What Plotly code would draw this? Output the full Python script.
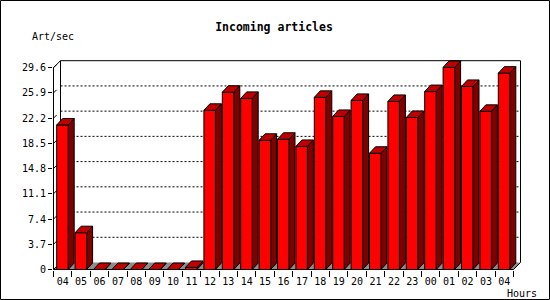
import plotly.graph_objects as go

# ---- data ----
hours = ["04", "05", "06", "07", "08", "09", "10", "11", "12", "13", "14", "15", "16",
         "17", "18", "19", "20", "21", "22", "23", "00", "01", "02", "03", "04"]
art_per_sec = [21.2, 5.4, 0, 0, 0, 0, 0, 0.3, 23.35, 26.0, 25.1, 18.95, 19.1,
               18.05, 25.25, 22.45, 24.8, 17.05, 24.65, 22.3, 26.1, 29.65, 26.85, 23.2, 28.8]
y_ticks = [0, 3.7, 7.4, 11.1, 14.8, 18.5, 22.2, 25.9, 29.6]
y_tick_labels = ["0", "3.7", "7.4", "11.1", "14.8", "18.5", "22.2", "25.9", "29.6"]
title_text = "Incoming articles"
y_title = "Art/sec"
x_title = "Hours"

# ---- geometry (pixel scales) ----
W, H = 550, 300
ML, MT = 53, 60
PW, PH = 468, 210
PX_PER_SLOT = 18.4
PX_PER_UNIT = 201.8 / 29.6
x0_px = 53.5          # pixel of front axis (x=-0.5)
y0_px = 269.5         # pixel of y=0
xr_lo = -0.5 - (x0_px - ML) / PX_PER_SLOT
xr_hi = -0.5 + (ML + PW - x0_px) / PX_PER_SLOT
yr_lo = -(MT + PH - y0_px) / PX_PER_UNIT
yr_hi = (y0_px - MT) / PX_PER_UNIT

n = len(hours)
ymax = y_ticks[-1]
# bar depth
bdx = 6.0 / PX_PER_SLOT
bdy = 6.5 / PX_PER_UNIT
# frame depth
fdx = 7.0 / PX_PER_SLOT
fdy = 7.0 / PX_PER_UNIT
bar_off = 3.2 / PX_PER_SLOT
bar_w = 11.5 / PX_PER_SLOT

fig = go.Figure()

# gridlines on back plane
gx, gy = [], []
for t in y_ticks[1:-1]:
    gx += [-0.5 + fdx, n - 0.5 + fdx, None]
    gy += [t + fdy, t + fdy, None]
fig.add_trace(go.Scatter(x=gx, y=gy, mode="lines", hoverinfo="skip",
                         line=dict(color="black", width=1, dash="2px,2px")))

# back plane edges
fig.add_trace(go.Scatter(
    x=[-0.5 + fdx, -0.5 + fdx, None, n - 0.5 + fdx, n - 0.5 + fdx],
    y=[fdy, ymax + fdy, None, fdy, ymax + fdy],
    mode="lines", hoverinfo="skip", line=dict(color="black", width=1)))

# floor
fig.add_trace(go.Scatter(
    x=[-0.5, n - 0.5, n - 0.5 + fdx, -0.5 + fdx, -0.5],
    y=[0, 0, fdy, fdy, 0],
    mode="lines", fill="toself", fillcolor="#8c8c8c", hoverinfo="skip",
    line=dict(color="rgba(0,0,0,0)", width=0)))

# bars
fx, fy, sx, sy, tx, ty = [], [], [], [], [], []
for i, v in enumerate(art_per_sec):
    xl = i - 0.5 + bar_off
    xr = xl + bar_w
    fx += [xl, xr, xr, xl, xl, None]
    fy += [0, 0, v, v, 0, None]
    sx += [xr, xr + bdx, xr + bdx, xr, xr, None]
    sy += [0, bdy, v + bdy, v, 0, None]
    tx += [xl, xr, xr + bdx, xl + bdx, xl, None]
    ty += [v, v, v + bdy, v + bdy, v, None]

for xs, ys, col in [(sx, sy, "#800000"), (fx, fy, "#ff0000"), (tx, ty, "#c00000")]:
    fig.add_trace(go.Scatter(x=xs, y=ys, mode="lines", fill="toself", fillcolor=col,
                             hoverinfo="skip", line=dict(color="black", width=1)))

# front frame
fig.add_trace(go.Scatter(
    x=[-0.5 + fdx, -0.5, -0.5, n - 0.5, n - 0.5 + fdx, None, -0.5 + fdx, n - 0.5 + fdx],
    y=[ymax + fdy, ymax, 0, 0, fdy, None, ymax + fdy, ymax + fdy],
    mode="lines", hoverinfo="skip", line=dict(color="black", width=1)))

# little diagonal tick marks on y axis
dxs, dys = [], []
for t in y_ticks:
    dxs += [-0.5, -0.5 + fdx * 0.45, None]
    dys += [t, t + fdy * 0.45, None]
fig.add_trace(go.Scatter(x=dxs, y=dys, mode="lines", hoverinfo="skip",
                         line=dict(color="black", width=1)))

# invisible trace for secondary x axis (tick marks at slot boundaries)
fig.add_trace(go.Scatter(x=[0], y=[0], xaxis="x2", mode="markers",
                         marker=dict(opacity=0), hoverinfo="skip"))

font = dict(family="DejaVu Sans Mono", size=10, color="black")

fig.update_layout(
    width=W, height=H,
    margin=dict(l=ML, r=W - ML - PW, t=MT, b=H - MT - PH, pad=0),
    paper_bgcolor="white", plot_bgcolor="rgba(0,0,0,0)",
    showlegend=False,
    font=font,
    title=dict(text="<b>" + title_text + "</b>", x=274 / W, xanchor="center",
               xref="container", y=1 - 27 / H, yanchor="middle", yref="container",
               font=dict(family="DejaVu Sans Mono", size=11.5, color="black")),
    xaxis=dict(range=[xr_lo, xr_hi], tickvals=list(range(n)), ticktext=hours,
               showgrid=False, zeroline=False, showline=False,
               ticks="outside", ticklen=2, tickcolor="rgba(0,0,0,0)",
               tickfont=font, fixedrange=True),
    xaxis2=dict(range=[xr_lo, xr_hi], overlaying="x", side="bottom",
                tickvals=[i - 0.5 for i in range(n + 1)], showticklabels=False,
                ticks="outside", ticklen=6, tickcolor="black", tickwidth=1,
                showgrid=False, zeroline=False, showline=False, fixedrange=True),
    yaxis=dict(range=[yr_lo, yr_hi], tickvals=y_ticks, ticktext=y_tick_labels,
               showgrid=False, zeroline=False, showline=False,
               ticks="outside", ticklen=4, tickcolor="black", tickwidth=1,
               tickfont=font, fixedrange=True),
    annotations=[
        dict(text=y_title, xref="paper", yref="paper", x=(30 - ML) / PW,
             y=(MT + PH - 36.7) / PH, xanchor="left", yanchor="middle",
             showarrow=False, font=font),
        dict(text=x_title, xref="paper", yref="paper", x=(505 - ML) / PW,
             y=(MT + PH - 293) / PH, xanchor="left", yanchor="middle",
             showarrow=False, font=font),
    ],
    shapes=[dict(type="rect", xref="paper", yref="paper",
                 x0=(0.5 - ML) / PW, x1=(549.5 - ML) / PW,
                 y0=(MT + PH - 299.5) / PH, y1=(MT + PH - 0.5) / PH,
                 line=dict(color="black", width=1), fillcolor="rgba(0,0,0,0)",
                 layer="above")],
)

fig.write_html("out.html", config={"displayModeBar": False})
